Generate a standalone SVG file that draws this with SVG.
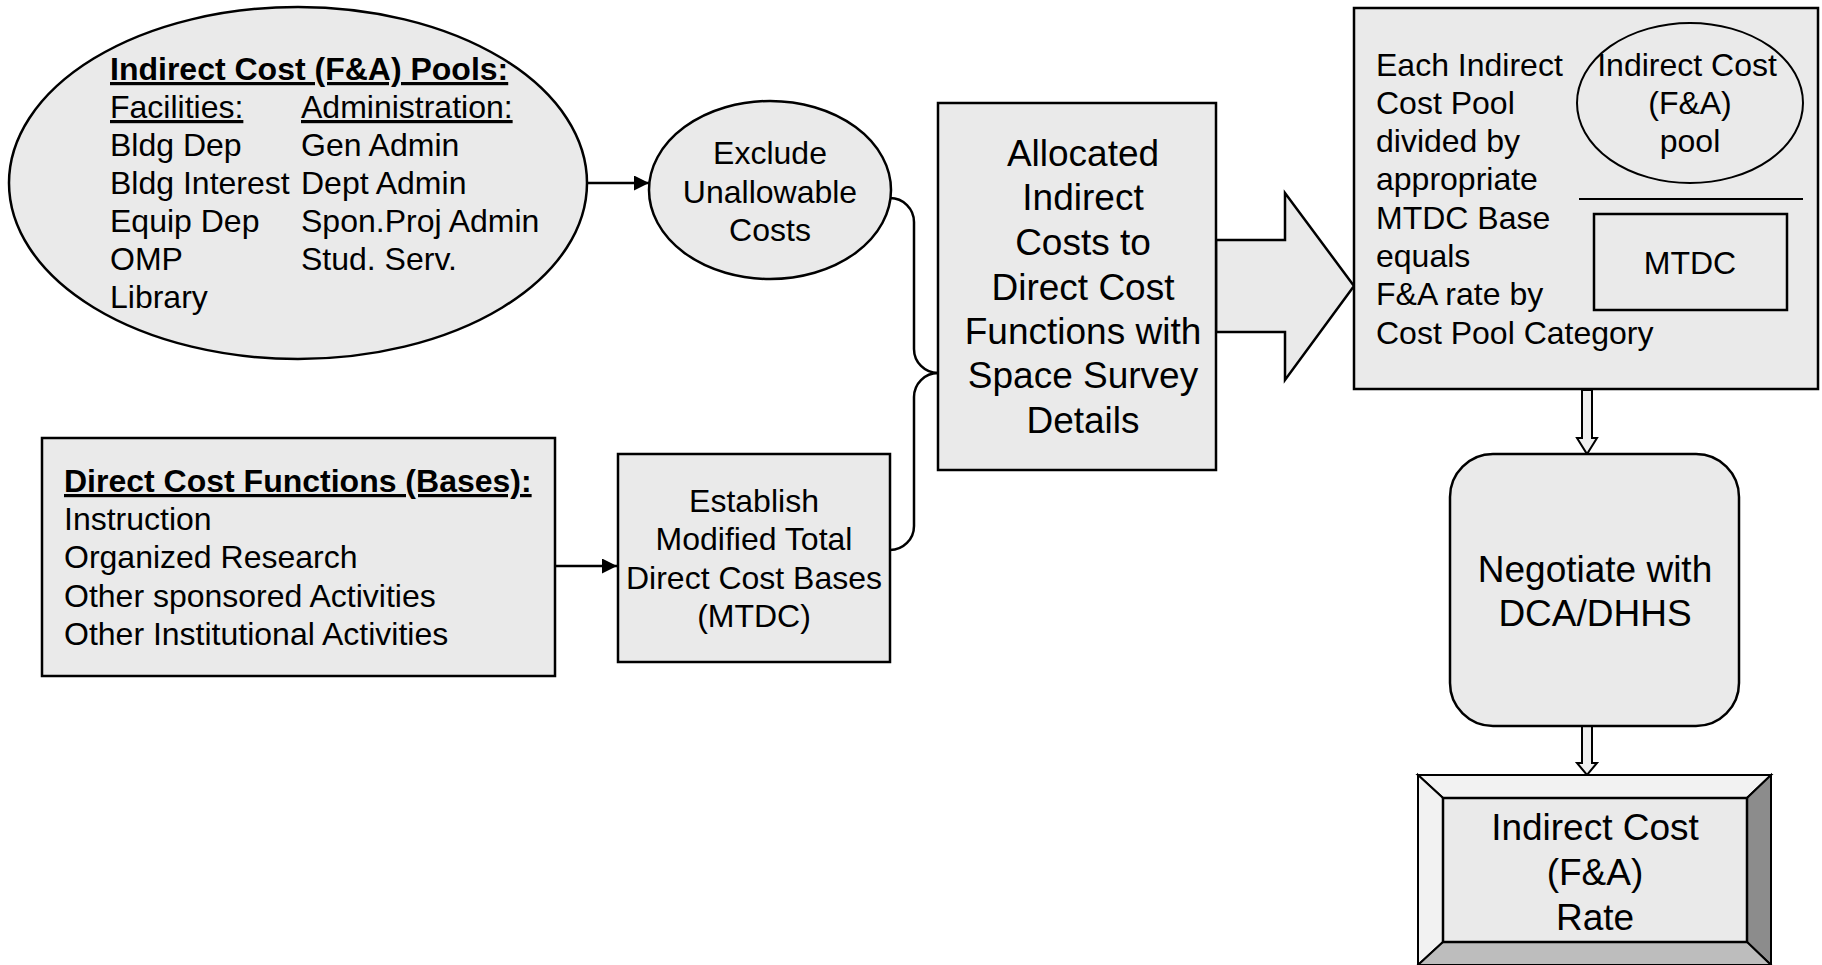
<svg xmlns="http://www.w3.org/2000/svg" width="1822" height="965" viewBox="0 0 1822 965">
<style>
  text { font-family: "Liberation Sans", Arial, sans-serif; fill: #000; }
  .t32 { font-size: 32px; }
  .t37 { font-size: 37px; }
  .c { text-anchor: middle; }
  .b { font-weight: bold; }
  .u { text-decoration: underline; }
  .shape { fill: #eaeaea; stroke: #000; stroke-width: 2.5; }
  .thin { fill: none; stroke: #000; stroke-width: 2; }
  .conn { fill: none; stroke: #000; stroke-width: 2.5; }
</style>
<defs>
  <marker id="arr" markerWidth="15" markerHeight="15" refX="15" refY="7.5" orient="auto" markerUnits="userSpaceOnUse">
    <path d="M0,0 L15,7.5 L0,15 Z" fill="#000"/>
  </marker>
</defs>
<rect width="1822" height="965" fill="#fff"/>

<g id="connectors">
  <line class="conn" x1="587" y1="183" x2="649" y2="183" marker-end="url(#arr)"/>
  <line class="conn" x1="555" y1="566" x2="617" y2="566" marker-end="url(#arr)"/>
  <path class="conn" d="M890,198 A24,24 0 0 1 914,222 V349 A24,24 0 0 0 938,373"/>
  <path class="conn" d="M890,550 A24,24 0 0 0 914,526 V397 A24,24 0 0 1 938,373"/>
  <polygon class="shape" stroke-width="2" points="1216,240 1285,240 1285,193 1354,286 1285,380 1285,332 1216,332"/>
  <polygon fill="#f0f0f0" stroke="#000" stroke-width="2" points="1582,390 1592,390 1592,438 1597,438 1587,454 1577,438 1582,438"/>
  <polygon fill="#f0f0f0" stroke="#000" stroke-width="2" points="1582,726 1592,726 1592,763 1597,763 1587,775 1577,763 1582,763"/>
</g>

<g id="pools">
  <ellipse class="shape" stroke-width="2" cx="298" cy="183" rx="289" ry="176"/>
  <text class="t32 b u" x="110" y="80">Indirect Cost (F&amp;A) Pools:</text>
  <text class="t32 u" x="110" y="118">Facilities:</text>
  <text class="t32" x="110" y="156">Bldg Dep</text>
  <text class="t32" x="110" y="194">Bldg Interest</text>
  <text class="t32" x="110" y="232">Equip Dep</text>
  <text class="t32" x="110" y="270">OMP</text>
  <text class="t32" x="110" y="308">Library</text>
  <text class="t32 u" x="301" y="118">Administration:</text>
  <text class="t32" x="301" y="156">Gen Admin</text>
  <text class="t32" x="301" y="194">Dept Admin</text>
  <text class="t32" x="301" y="232">Spon.Proj Admin</text>
  <text class="t32" x="301" y="270">Stud. Serv.</text>
</g>

<g id="exclude">
  <ellipse class="shape" stroke-width="2" cx="770" cy="190" rx="121" ry="89"/>
  <text class="t32 c" x="770" y="164">Exclude</text>
  <text class="t32 c" x="770" y="203">Unallowable</text>
  <text class="t32 c" x="770" y="241">Costs</text>
</g>

<g id="allocated">
  <rect class="shape" x="938" y="103" width="278" height="367"/>
  <text class="t37 c" x="1083" y="166">Allocated</text>
  <text class="t37 c" x="1083" y="210">Indirect</text>
  <text class="t37 c" x="1083" y="255">Costs to</text>
  <text class="t37 c" x="1083" y="300">Direct Cost</text>
  <text class="t37 c" x="1083" y="344">Functions with</text>
  <text class="t37 c" x="1083" y="388">Space Survey</text>
  <text class="t37 c" x="1083" y="433">Details</text>
</g>

<g id="rate-calc">
  <rect class="shape" x="1354" y="8" width="464" height="381"/>
  <text class="t32" x="1376" y="76">Each Indirect</text>
  <text class="t32" x="1376" y="114">Cost Pool</text>
  <text class="t32" x="1376" y="152">divided by</text>
  <text class="t32" x="1376" y="190">appropriate</text>
  <text class="t32" x="1376" y="229">MTDC Base</text>
  <text class="t32" x="1376" y="267">equals</text>
  <text class="t32" x="1376" y="305">F&amp;A rate by</text>
  <text class="t32" x="1376" y="344">Cost Pool Category</text>
  <ellipse class="thin" cx="1690" cy="103" rx="113" ry="80"/>
  <text class="t32 c" x="1687" y="76">Indirect Cost</text>
  <text class="t32 c" x="1690" y="114">(F&amp;A)</text>
  <text class="t32 c" x="1690" y="152">pool</text>
  <line x1="1579" y1="199" x2="1803" y2="199" stroke="#000" stroke-width="2"/>
  <rect x="1594" y="214" width="193" height="96" fill="none" stroke="#000" stroke-width="2.5"/>
  <text class="t32 c" x="1690" y="274">MTDC</text>
</g>

<g id="direct-functions">
  <rect class="shape" x="42" y="438" width="513" height="238"/>
  <text class="t32 b u" x="64" y="492">Direct Cost Functions (Bases):</text>
  <text class="t32" x="64" y="530">Instruction</text>
  <text class="t32" x="64" y="568">Organized Research</text>
  <text class="t32" x="64" y="607">Other sponsored Activities</text>
  <text class="t32" x="64" y="645">Other Institutional Activities</text>
</g>

<g id="establish">
  <rect class="shape" x="618" y="454" width="272" height="208"/>
  <text class="t32 c" x="754" y="512">Establish</text>
  <text class="t32 c" x="754" y="550">Modified Total</text>
  <text class="t32 c" x="754" y="589">Direct Cost Bases</text>
  <text class="t32 c" x="754" y="627">(MTDC)</text>
</g>

<g id="negotiate">
  <rect class="shape" x="1450" y="454" width="289" height="272" rx="43" ry="43"/>
  <text class="t37 c" x="1595" y="582">Negotiate with</text>
  <text class="t37 c" x="1595" y="626">DCA/DHHS</text>
</g>

<g id="rate">
  <polygon points="1418,775 1771,775 1747,798 1443,798" fill="#f2f2f2" stroke="#000" stroke-width="2"/>
  <polygon points="1418,775 1443,798 1443,942 1418,965" fill="#f2f2f2" stroke="#000" stroke-width="2"/>
  <polygon points="1771,775 1771,965 1747,942 1747,798" fill="#8c8c8c" stroke="#000" stroke-width="2"/>
  <polygon points="1418,965 1443,942 1747,942 1771,965" fill="#bdbdbd" stroke="#000" stroke-width="2"/>
  <rect class="shape" x="1443" y="798" width="304" height="144"/>
  <text class="t37 c" x="1595" y="840">Indirect Cost</text>
  <text class="t37 c" x="1595" y="885">(F&amp;A)</text>
  <text class="t37 c" x="1595" y="930">Rate</text>
</g>
</svg>
